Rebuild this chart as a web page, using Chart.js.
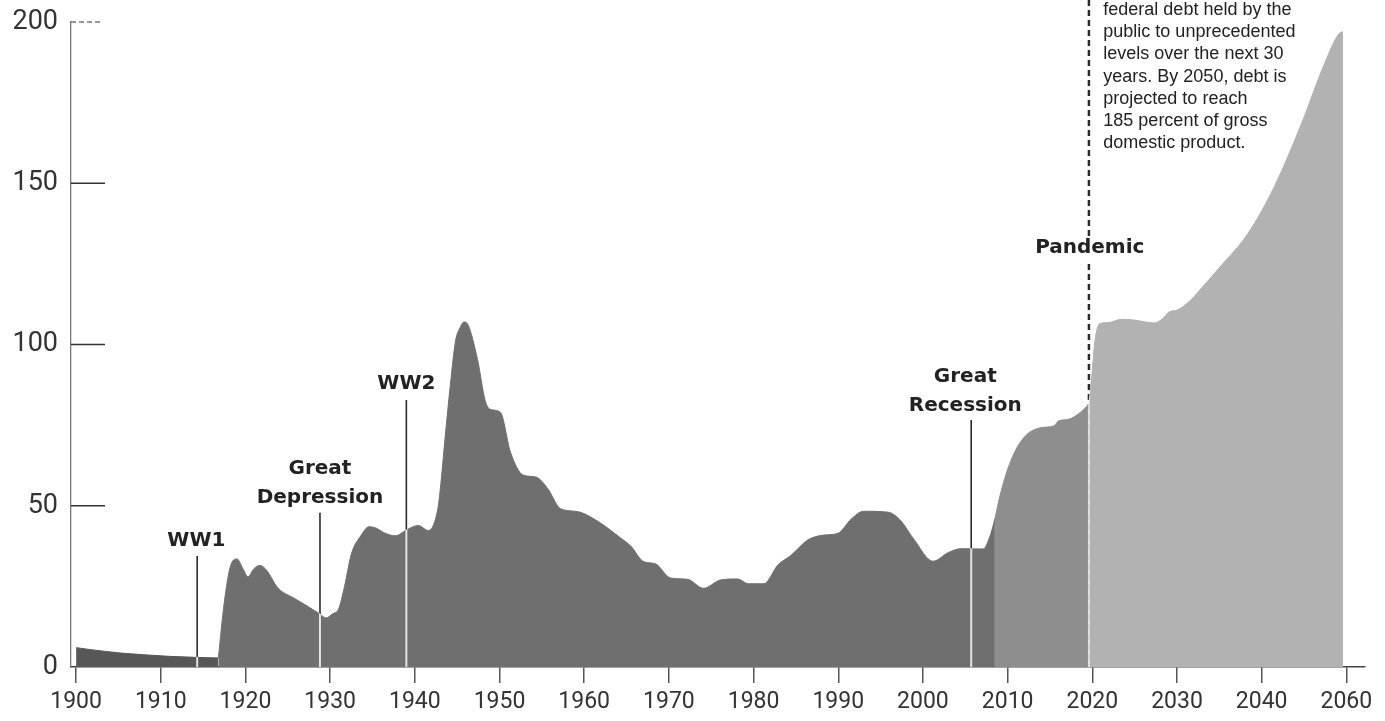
<!DOCTYPE html>
<html>
<head>
<meta charset="utf-8">
<script src="https://cdn.jsdelivr.net/npm/chart.js@4.4.1/dist/chart.umd.min.js"></script>
<style>
  html, body { margin: 0; padding: 0; background: #fff; overflow: hidden; }
  #wrap { width: 1385px; height: 721px; position: relative; }
</style>
</head>
<body>
<div id="wrap"><canvas id="debtChart"></canvas></div>
<script>
"use strict";
// federal debt held by the public, percent of GDP
const earlyYears = [1900, 1902, 1905, 1908, 1911, 1914, 1916.8];
const earlyDebt = [6.0, 5.3, 4.4, 3.8, 3.3, 3.0, 2.8];

const histYears = [1916.8, 1917.5, 1918.2, 1919.0, 1919.7, 1920.3, 1921.0, 1921.7, 1922.5, 1923.8,
    1925.7, 1927.3, 1928.8, 1929.5, 1930.3, 1931.0, 1931.7, 1932.5, 1933.6, 1934.6,
    1935.5, 1936.3, 1937.7, 1939.1, 1940.4, 1941.6, 1942.7, 1943.0, 1943.6, 1944.2,
    1944.8, 1945.4, 1945.8, 1946.3, 1947.4, 1948.3, 1948.9, 1950.1, 1951.3, 1952.8, 1954.3,
    1955.7, 1957.2, 1959.2, 1961.6, 1964.3, 1965.5, 1967.0, 1968.4, 1970.2, 1972.2,
    1974.1, 1976.1, 1978.1, 1979.4, 1981.2, 1982.9, 1984.4, 1986.4, 1988.3, 1990.0,
    1991.5, 1993.0, 1995.9, 1997.4, 1998.9, 2001.2, 2003.0, 2004.5, 2007.1, 2008.0, 2008.5];
const histDebt = [2.8, 20, 31, 33.5, 30.5, 28, 30.5, 31.5, 30, 24.6,
    21.4, 18.9, 16.4, 15.2, 16.5, 18, 25, 35, 40.6, 43.5,
    43, 41.7, 40.7, 42.6, 43.9, 42.3, 48.8, 55, 71.8, 87.6,
    101, 105.5, 107, 106, 95.4, 82.7, 79.9, 79.0, 66.6, 59.5, 58.9,
    55.3, 49.1, 48.2, 45.2, 40.0, 37.5, 32.7, 32.0, 27.6, 27.2,
    24.4, 27.0, 27.3, 25.8, 25.8, 31.7, 34.6, 39.4, 40.9, 41.5,
    45.8, 48.3, 48.0, 45.3, 39.7, 32.8, 35.5, 36.7, 36.6, 41.2, 46];

const recentYears = [2008.5, 2009.2, 2010.4, 2011.9, 2013.9, 2015.5, 2016.0, 2017.2, 2018.7, 2019.6];
const recentDebt = [46, 54.2, 64.1, 71.1, 74.2, 74.8, 76.3, 76.8, 79.2, 81.5];

const projYears = [2019.6, 2020.0, 2020.3, 2020.9, 2021.9, 2023.4, 2024.9, 2026.3, 2027.3, 2028.3,
    2029.0, 2030.1, 2031.5, 2032.9, 2035.2, 2038.4, 2041.5, 2044.7, 2047.4, 2049.1, 2049.6];
const projDebt = [81.5, 92, 101, 106.5, 106.8, 107.8, 107.6, 107, 106.7, 108,
    110, 110.8, 113.5, 117.5, 124.4, 134.5, 149, 168.5, 187, 196.3, 197];

const xTickLabels = ['1900', '1910', '1920', '1930', '1940', '1950', '1960', '1970',
    '1980', '1990', '2000', '2010', '2020', '2030', '2040', '2060'];

const events = [
    { year: 1914.3, labelYear: 1914.2, lines: ['WW1'], labelAt: [39.1], lineTop: 34.4 },
    { year: 1928.8, labelYear: 1928.8, lines: ['Great', 'Depression'], labelAt: [61.4, 52.4], lineTop: 47.8 },
    { year: 1939.0, labelYear: 1939.0, lines: ['WW2'], labelAt: [87.8], lineTop: 82.8 },
    { year: 2005.7, labelYear: 2005.0, lines: ['Great', 'Recession'], labelAt: [89.9, 80.9], lineTop: 76.6 },
    { year: 2019.6, labelYear: 2019.7, lines: ['Pandemic'], labelAt: [129.9], lineTop: null, gap: [133.6, 125.0] }
];

const noteLines = ['federal debt held by the', 'public to unprecedented', 'levels over the next 30',
    'years. By 2050, debt is', 'projected to reach', '185 percent of gross', 'domestic product.'];
const noteAnchor = { year: 2021.3, value: 203.7 };

document.addEventListener('DOMContentLoaded', () => {
    const canvas = document.getElementById('debtChart');
    if (!canvas) {
        console.error('Canvas element not found');
        return;
    }
    const ctx = canvas.getContext('2d');

    Chart.defaults.font.family = 'Roboto, "Liberation Sans", sans-serif';

    const toPoints = (xs, ys) => xs.map((x, i) => ({ x: x, y: ys[i] }));
    const area = (label, xs, ys, color) => ({
        label: label,
        data: toPoints(xs, ys),
        backgroundColor: color,
        borderColor: color,
        borderWidth: 1,
        pointRadius: 0,
        fill: 'origin',
        cubicInterpolationMode: 'monotone'
    });

    const strokeLine = (c, x1, y1, x2, y2) => {
        c.beginPath();
        c.moveTo(x1, y1);
        c.lineTo(x2, y2);
        c.stroke();
    };

    const eventLines = {
        id: 'eventLines',
        afterDatasetsDraw(chart) {
            const c = chart.ctx;
            const x = chart.scales.x;
            const y = chart.scales.y;
            const base = y.getPixelForValue(0);
            c.save();
            // pale lines only where the area is already painted
            c.globalCompositeOperation = 'source-atop';
            c.strokeStyle = '#e2e2e2';
            c.lineWidth = 2;
            events.forEach(ev => {
                const px = x.getPixelForValue(ev.year);
                strokeLine(c, px, 0, px, base);
            });
            // dark lines only where nothing is painted yet (above the area)
            c.globalCompositeOperation = 'destination-over';
            c.strokeStyle = '#2a2a2a';
            events.forEach(ev => {
                const px = x.getPixelForValue(ev.year);
                if (ev.gap) {
                    c.lineWidth = 2.5;
                    c.setLineDash([6, 4]);
                    strokeLine(c, px, 0, px, y.getPixelForValue(ev.gap[0]));
                    strokeLine(c, px, y.getPixelForValue(ev.gap[1]), px, base);
                    c.setLineDash([]);
                } else {
                    c.lineWidth = 1.6;
                    strokeLine(c, px, y.getPixelForValue(ev.lineTop), px, base);
                }
            });
            c.restore();
        },
        afterDraw(chart) {
            const c = chart.ctx;
            const x = chart.scales.x;
            const y = chart.scales.y;
            const area = chart.chartArea;
            c.save();
            // short inner ticks on the y axis
            y.ticks.forEach(t => {
                if (t.value === 0) return;
                const py = y.getPixelForValue(t.value);
                if (t.value === 200) {
                    c.setLineDash([5, 3]);
                    c.strokeStyle = '#777';
                    c.lineWidth = 1.5;
                    strokeLine(c, area.left, py, area.left + 30, py);
                    c.setLineDash([]);
                } else {
                    c.strokeStyle = '#333';
                    c.lineWidth = 1.5;
                    strokeLine(c, area.left, py, area.left + 34, py);
                }
            });
            // event labels
            c.fillStyle = '#222';
            c.font = 'bold 20px "DejaVu Sans"';
            c.textAlign = 'center';
            c.textBaseline = 'middle';
            events.forEach(ev => {
                const px = x.getPixelForValue(ev.labelYear);
                ev.lines.forEach((txt, i) => {
                    c.fillText(txt, px, y.getPixelForValue(ev.labelAt[i]));
                });
            });
            // note text
            c.font = '18px "Liberation Sans"';
            c.textAlign = 'left';
            c.fillStyle = '#222';
            const nx = x.getPixelForValue(noteAnchor.year);
            const ny = y.getPixelForValue(noteAnchor.value);
            noteLines.forEach((txt, i) => {
                c.fillText(txt, nx, ny + i * 22.2);
            });
            c.restore();
        }
    };

    new Chart(ctx, {
        type: 'line',
        data: {
            datasets: [
                area('1900-1916', earlyYears, earlyDebt, '#575757'),
                area('1917-2008', histYears, histDebt, '#6f6f6f'),
                area('2009-2019', recentYears, recentDebt, '#8e8e8e'),
                area('Projected', projYears, projDebt, '#b2b2b2')
            ]
        },
        options: {
            responsive: true,
            maintainAspectRatio: false,
            animation: false,
            layout: { padding: { top: 22, right: 20, left: 0, bottom: 0 } },
            plugins: {
                legend: { display: false },
                tooltip: { enabled: false }
            },
            scales: {
                x: {
                    type: 'linear',
                    min: 1899.4,
                    max: 2052.2,
                    afterFit: (s) => { s.height = 54; s.paddingLeft = 0; s.paddingRight = 0; },
                    grid: { drawOnChartArea: false, drawTicks: true, tickLength: 16, color: '#555', lineWidth: 1.5 },
                    border: { display: true, color: '#444', width: 1.5 },
                    ticks: {
                        stepSize: 10,
                        includeBounds: false,
                        autoSkip: false,
                        maxRotation: 0,
                        padding: 5,
                        color: '#333',
                        font: { size: 23 },
                        callback: (v) => xTickLabels[Math.round((v - 1900) / 10)]
                    }
                },
                y: {
                    min: 0,
                    max: 200,
                    afterFit: (s) => { s.width = 71; s.paddingTop = 0; s.paddingBottom = 0; },
                    grid: { drawOnChartArea: false, drawTicks: false },
                    border: { display: true, color: '#777', width: 1.3, dash: [2, 2] },
                    ticks: { stepSize: 50, padding: 13, color: '#333', font: { size: 27 } }
                }
            }
        },
        plugins: [eventLines]
    });
});
</script>
</body>
</html>
